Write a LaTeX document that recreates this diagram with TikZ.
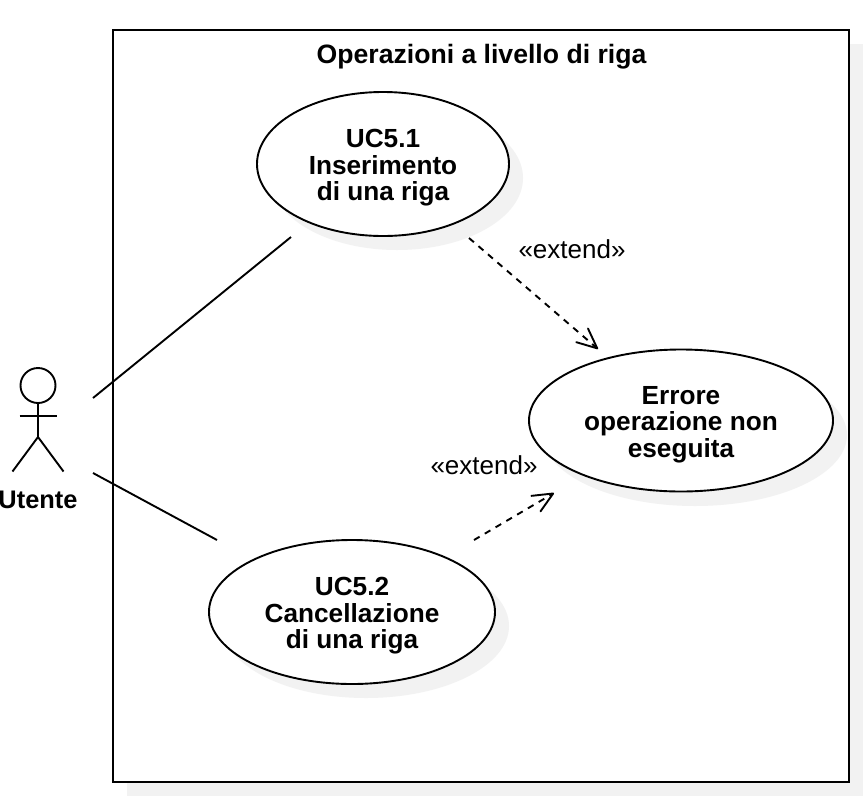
\documentclass[tikz,border=0pt]{standalone}
\usepackage{fontspec}
\setmainfont{Liberation Sans}
\usetikzlibrary{arrows.meta,shapes.geometric}
\definecolor{dropgray}{HTML}{F2F2F2}
\tikzset{
  x=1pt,y=-1pt,
  line/.style={line width=1.9pt,draw=black},
  frameline/.style={line width=2.6pt,draw=black,fill=white},
  usecase/.style={ellipse,draw=black,line width=1.9pt,fill=white,inner sep=0pt,align=center,
    font=\fontsize{26.2}{26.5}\selectfont\bfseries},
  shadowshape/.style={ellipse,fill=dropgray,inner sep=0pt},
  plainlabel/.style={font=\fontsize{26}{27}\selectfont,inner sep=0pt},
  boldlabel/.style={font=\fontsize{26.6}{27}\selectfont\bfseries,inner sep=0pt},
  actorlabel/.style={font=\fontsize{25.4}{27}\selectfont\bfseries,inner sep=0pt},
  ext/.style={line width=1.9pt,dash pattern=on 6.5pt off 6pt,-{Straight Barb[length=20pt,width=18pt,line width=1.9pt,round=false]}},
}
\newcommand{\firstline}{\rule{0pt}{26pt}}
\begin{document}
\begin{tikzpicture}
\useasboundingbox (0,0) rectangle (863,796);
% shadows
\fill[dropgray] (127,44) rectangle (863,796);
% frame
\path[frameline] (113,30) rectangle (849,782);
\node[boldlabel] (title) at (481.5,57) {Operazioni a livello di riga};
\node[shadowshape,minimum width=252pt,minimum height=144pt] (s1) at (397,178) {};
\node[shadowshape,minimum width=304pt,minimum height=142pt] (s3) at (695,435) {};
\node[shadowshape,minimum width=286pt,minimum height=144pt] (s2) at (366,626) {};
% use cases
\node[usecase,minimum width=252pt,minimum height=144pt] (uc1) at (383,164) {\firstline UC5.1\\Inserimento\\di una riga};
\node[usecase,minimum width=304pt,minimum height=142pt] (err) at (681,420.5) {\firstline Errore\\operazione non\\eseguita};
\node[usecase,minimum width=286pt,minimum height=144pt] (uc2) at (352,612) {\firstline UC5.2\\Cancellazione\\di una riga};
% actor
\node[circle,draw=black,line width=1.9pt,minimum size=35pt,inner sep=0pt] (head) at (38,385.5) {};
\coordinate (hip) at (38,437);
\coordinate (armL) at (19.5,416);
\coordinate (armR) at (56.5,416);
\coordinate (legL) at (12.5,471.5);
\coordinate (legR) at (63.5,471.5);
\draw[line] (head.south) -- (hip);
\draw[line] (armL) -- (armR);
\draw[line] (legL) -- (hip) -- (legR);
\node[actorlabel] (actor) at (38,499.5) {Utente};
% associations
\coordinate (a1) at (93,398);
\coordinate (a2) at (93,473);
\coordinate (u1) at (291,237);
\coordinate (u2) at (217,540);
\draw[line] (a1) -- (u1);
\draw[line] (a2) -- (u2);
% extend
\coordinate (e1s) at (469,238);
\coordinate (e1t) at (598,349);
\coordinate (e2s) at (474,540);
\coordinate (e2t) at (554,493);
\draw[ext] (e1s) -- (e1t);
\draw[ext] (e2s) -- (e2t);
\node[plainlabel] (l1) at (572,249) {«extend»};
\node[plainlabel] (l2) at (484,465) {«extend»};
\end{tikzpicture}
\end{document}
